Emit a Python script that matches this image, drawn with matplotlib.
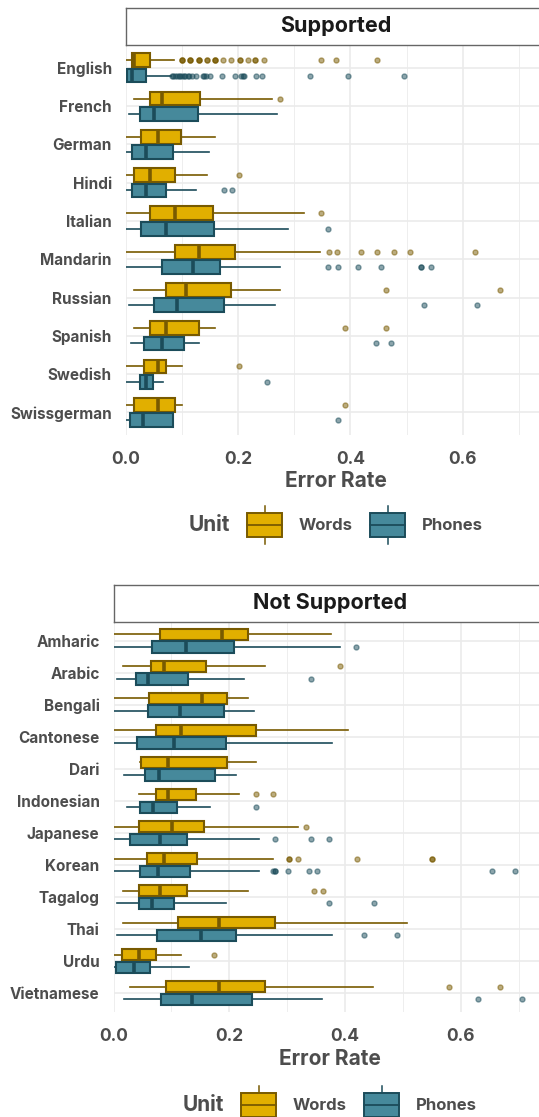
import numpy as np
import matplotlib
matplotlib.use('Agg')
import matplotlib.pyplot as plt
from matplotlib.patches import Rectangle
from matplotlib.ticker import MultipleLocator

plt.rcParams['font.family'] = ['Inter', 'DejaVu Sans']

# ---- data: Supported languages ----
sup_langs = ['English', 'French', 'German', 'Hindi', 'Italian', 'Mandarin',
             'Russian', 'Spanish', 'Swedish', 'Swissgerman']

sup_words_lo = [0.0, 0.015, 0.0, 0.0, 0.0, 0.0, 0.015, 0.015, 0.0, 0.0]
sup_words_q1 = [0.012, 0.043, 0.028, 0.014, 0.043, 0.087, 0.072, 0.043, 0.032, 0.014]
sup_words_med = [0.015, 0.064, 0.058, 0.043, 0.087, 0.130, 0.108, 0.072, 0.058, 0.058]
sup_words_q3 = [0.043, 0.133, 0.098, 0.087, 0.156, 0.195, 0.188, 0.130, 0.072, 0.087]
sup_words_hi = [0.086, 0.261, 0.159, 0.144, 0.318, 0.346, 0.275, 0.159, 0.101, 0.101]
sup_words_out = [
    [0.100, 0.100, 0.100, 0.115, 0.115, 0.115, 0.130, 0.130, 0.130, 0.145, 0.145,
     0.159, 0.159, 0.159, 0.173, 0.188, 0.203, 0.203, 0.217, 0.231, 0.231, 0.246,
     0.347, 0.375, 0.448],
    [0.275], [], [0.202], [0.347],
    [0.362, 0.376, 0.419, 0.448, 0.478, 0.506, 0.622],
    [0.463, 0.666], [0.391, 0.463], [0.202], [0.391]]

sup_phones_lo = [0.0, 0.005, 0.0, 0.0, 0.0, 0.0, 0.005, 0.009, 0.0, 0.0]
sup_phones_q1 = [0.003, 0.026, 0.012, 0.012, 0.027, 0.065, 0.050, 0.032, 0.025, 0.008]
sup_phones_med = [0.012, 0.051, 0.036, 0.036, 0.071, 0.120, 0.092, 0.065, 0.036, 0.031]
sup_phones_q3 = [0.036, 0.128, 0.085, 0.072, 0.157, 0.168, 0.175, 0.103, 0.048, 0.085]
sup_phones_hi = [0.081, 0.269, 0.148, 0.125, 0.288, 0.274, 0.265, 0.130, 0.067, 0.085]
sup_phones_out = [
    [0.082, 0.085, 0.088, 0.091, 0.094, 0.097, 0.100, 0.103, 0.106, 0.110, 0.113,
     0.118, 0.126, 0.137, 0.140, 0.143, 0.150, 0.171, 0.194, 0.206, 0.208, 0.210,
     0.232, 0.243, 0.328, 0.396, 0.495],
    [], [], [0.175, 0.189], [0.360],
    [0.360, 0.377, 0.414, 0.454, 0.526, 0.526, 0.544],
    [0.531, 0.625], [0.445, 0.472], [0.251], [0.378]]

# ---- data: Not supported languages ----
not_langs = ['Amharic', 'Arabic', 'Bengali', 'Cantonese', 'Dari', 'Indonesian',
             'Japanese', 'Korean', 'Tagalog', 'Thai', 'Urdu', 'Vietnamese']

not_words_lo = [0.0, 0.016, 0.0, 0.0, 0.045, 0.044, 0.0, 0.0, 0.016, 0.016, 0.0, 0.029]
not_words_q1 = [0.080, 0.065, 0.062, 0.073, 0.047, 0.073, 0.044, 0.058, 0.044, 0.112, 0.014, 0.091]
not_words_med = [0.188, 0.087, 0.153, 0.116, 0.094, 0.094, 0.101, 0.087, 0.080, 0.182, 0.044, 0.182]
not_words_q3 = [0.232, 0.160, 0.196, 0.246, 0.196, 0.142, 0.156, 0.145, 0.127, 0.279, 0.073, 0.261]
not_words_hi = [0.376, 0.261, 0.232, 0.405, 0.246, 0.217, 0.319, 0.275, 0.232, 0.507, 0.116, 0.448]
not_words_out = [[], [0.391], [], [], [], [0.246, 0.276], [0.333],
                 [0.304, 0.304, 0.319, 0.420, 0.550, 0.550],
                 [0.347, 0.362], [], [0.174], [0.579, 0.667]]

not_phones_lo = [0.0, 0.006, 0.0, 0.0, 0.019, 0.023, 0.0, 0.0, 0.006, 0.006, 0.0, 0.018]
not_phones_q1 = [0.067, 0.039, 0.060, 0.040, 0.055, 0.045, 0.028, 0.045, 0.044, 0.075, 0.005, 0.082]
not_phones_med = [0.126, 0.059, 0.115, 0.104, 0.078, 0.069, 0.081, 0.077, 0.067, 0.151, 0.036, 0.136]
not_phones_q3 = [0.208, 0.128, 0.191, 0.194, 0.176, 0.110, 0.127, 0.133, 0.105, 0.212, 0.063, 0.239]
not_phones_hi = [0.391, 0.225, 0.243, 0.378, 0.212, 0.167, 0.252, 0.252, 0.194, 0.378, 0.130, 0.360]
not_phones_out = [[0.419], [0.342], [], [], [], [0.247], [0.279, 0.342, 0.373],
                  [0.275, 0.279, 0.279, 0.302, 0.338, 0.351, 0.653, 0.693],
                  [0.373, 0.450], [0.432, 0.490], [], [0.630, 0.706]]

x_ticks = [0.0, 0.2, 0.4, 0.6]
units = ['Words', 'Phones']

WORDS_FILL, WORDS_EDGE = '#E1AF00', '#785A00'
PHONES_FILL, PHONES_EDGE = '#46899B', '#1B4C5A'
GRID = '#EBEBEB'
TXT = '#4D4D4D'

W, H = 539, 1117
fig = plt.figure(figsize=(W / 100, H / 100), dpi=100)


def px_rect(l, t, r, b):
    return [l / W, 1 - b / H, (r - l) / W, (b - t) / H]


def make_stats(lo, q1, med, q3, hi, out):
    return [dict(whislo=lo[i], q1=q1[i], med=med[i], q3=q3[i], whishi=hi[i], fliers=out[i])
            for i in range(len(lo))]


def draw_panel(rect, strip_rect, title, langs, words, phones):
    ax = fig.add_axes(rect)
    n = len(langs)
    for stats, off, fc, ec in [(words, -0.2, WORDS_FILL, WORDS_EDGE),
                               (phones, 0.2, PHONES_FILL, PHONES_EDGE)]:
        ax.bxp(stats, positions=np.arange(n) + off, widths=0.36,
               orientation='horizontal', patch_artist=True, showcaps=False,
               manage_ticks=False,
               boxprops=dict(facecolor=fc, edgecolor=ec, linewidth=1.5),
               medianprops=dict(color=ec, linewidth=2.6, solid_capstyle='butt'),
               whiskerprops=dict(color=ec, linewidth=1.2),
               flierprops=dict(marker='o', markersize=3.6, markerfacecolor=ec,
                               markeredgecolor=ec, alpha=0.5, linestyle='none'))
    ax.set_xlim(0, 0.748)
    ax.set_ylim(n - 1 + 0.6, -0.6)
    ax.set_yticks(np.arange(n))
    ax.set_yticklabels(langs)
    ax.set_xticks(x_ticks)
    ax.set_xticklabels(['%.1f' % t for t in x_ticks])
    ax.xaxis.set_minor_locator(MultipleLocator(0.1))
    ax.grid(True, which='major', color=GRID, linewidth=1.2)
    ax.grid(True, which='minor', axis='x', color=GRID, linewidth=0.6)
    ax.set_axisbelow(True)
    for s in ax.spines.values():
        s.set_visible(False)
    ax.tick_params(axis='both', which='both', length=0)
    ax.tick_params(axis='y', pad=10, labelsize=11, labelcolor=TXT)
    ax.tick_params(axis='x', pad=11, labelsize=12.5, labelcolor=TXT)
    for lab in ax.get_yticklabels() + ax.get_xticklabels():
        lab.set_fontweight('bold')

    st = fig.add_axes(strip_rect)
    st.set_xticks([])
    st.set_yticks([])
    for s in st.spines.values():
        s.set_color('#666666')
        s.set_linewidth(1.0)
    st.text(0.5, 0.5, title, ha='center', va='center', fontsize=15.5,
            fontweight='bold', color='#1A1A1A', transform=st.transAxes)
    return ax


draw_panel(px_rect(125.7, 45, 546, 435.3), px_rect(125.7, 7.6, 546, 45), 'Supported',
           sup_langs,
           make_stats(sup_words_lo, sup_words_q1, sup_words_med, sup_words_q3, sup_words_hi, sup_words_out),
           make_stats(sup_phones_lo, sup_phones_q1, sup_phones_med, sup_phones_q3, sup_phones_hi, sup_phones_out))

draw_panel(px_rect(113.5, 621.5, 546.5, 1012.3), px_rect(113.5, 584.5, 546.5, 621.5), 'Not Supported',
           not_langs,
           make_stats(not_words_lo, not_words_q1, not_words_med, not_words_q3, not_words_hi, not_words_out),
           make_stats(not_phones_lo, not_phones_q1, not_phones_med, not_phones_q3, not_phones_hi, not_phones_out))

# overlay in pixel coords for axis titles and legends
ov = fig.add_axes([0, 0, 1, 1])
ov.set_xlim(0, W)
ov.set_ylim(H, 0)
ov.axis('off')
ov.patch.set_alpha(0)

ov.text(336, 481, 'Error Rate', ha='center', va='center', fontsize=15, fontweight='bold', color=TXT)
ov.text(330, 1059, 'Error Rate', ha='center', va='center', fontsize=15, fontweight='bold', color=TXT)


def draw_legend(x0, yc):
    ov.text(x0, yc, 'Unit', ha='left', va='center', fontsize=15, fontweight='bold', color=TXT)
    keys = [(x0 + 58, WORDS_FILL, WORDS_EDGE, units[0]),
            (x0 + 181, PHONES_FILL, PHONES_EDGE, units[1])]
    for kx, fc, ec, lab in keys:
        ov.plot([kx + 17.5, kx + 17.5], [yc - 19, yc + 19], color=ec, lw=1.1, zorder=2)
        ov.add_patch(Rectangle((kx, yc - 12), 35, 24, facecolor=fc, edgecolor=ec, lw=1.4, zorder=3))
        ov.plot([kx, kx + 35], [yc, yc], color=ec, lw=1.3, zorder=4)
        ov.text(kx + 52, yc, lab, ha='left', va='center', fontsize=12, fontweight='bold', color=TXT)


draw_legend(189, 525)
draw_legend(183, 1105)

fig.savefig('out.png', dpi=100)
